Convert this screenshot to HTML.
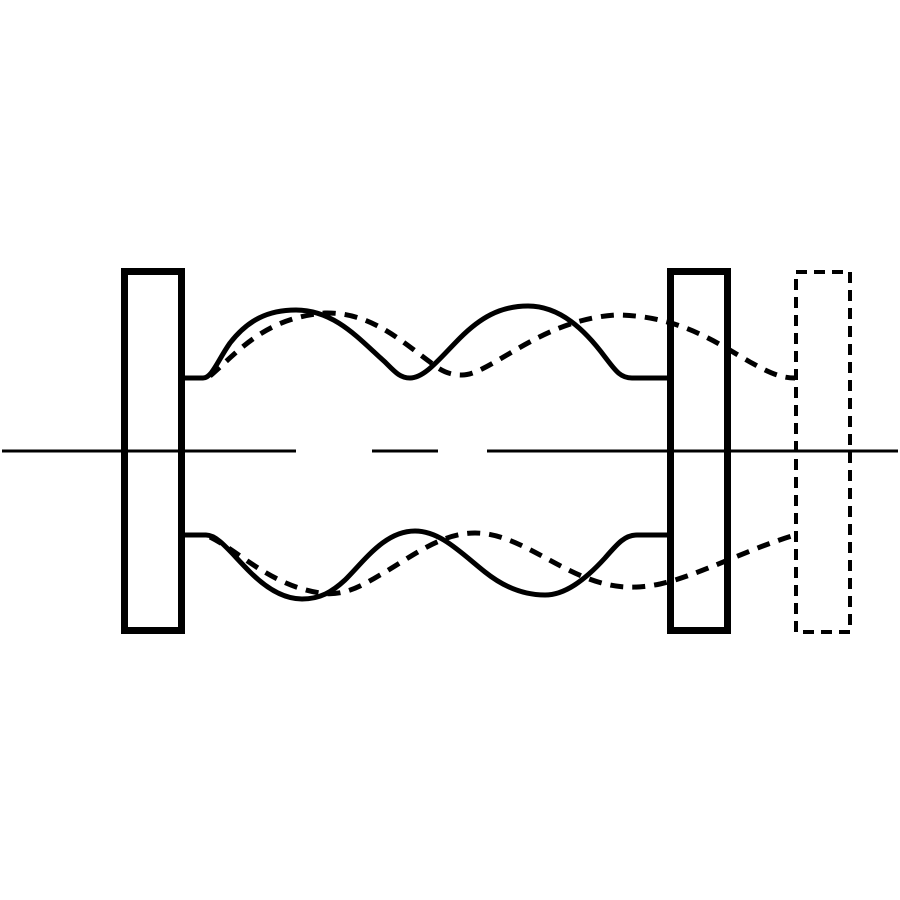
<!DOCTYPE html>
<html><head><meta charset="utf-8"><style>html,body{margin:0;padding:0;background:#fff}svg{display:block}</style></head>
<body>
<svg width="900" height="900" viewBox="0 0 900 900" xmlns="http://www.w3.org/2000/svg">
<rect width="900" height="900" fill="#fff"/>
<g stroke="#000" fill="none" stroke-linecap="butt">
<!-- center line -->
<path d="M2 451H296M372 451H438M487 451H898" stroke-width="3"/>
<!-- rects -->
<rect x="124.5" y="271.5" width="57" height="359" stroke-width="7"/>
<rect x="670.5" y="271.5" width="57" height="359" stroke-width="7"/>
<rect x="796" y="272" width="54" height="360" stroke-width="4" stroke-dasharray="11,7"/>
<!-- solid curves -->
<path d="M184 378H203C212 378 218 360 230 343C248 320 268 310 296 310C335 310 360 340 385 362C395 372 400 378 410 378C425 378 440 358 460 338C480 318 500 306 528 306C560 306 585 330 605 357C615 370 620 378 632 378H670" stroke-width="5"/>
<path d="M184 535H206C218 535 230 552 250 572C268 590 285 599 302 599C320 599 332 592 345 580C365 560 385 531 415 531C440 531 460 552 485 572C505 588 525 595 545 595C565 595 585 580 605 558C618 543 625 535 637 535H670" stroke-width="5"/>
<!-- dashed curves -->
<path d="M210 376C240 350 265 318 325 313C370 312 400 340 430 362C440 370 448 375 462 375C490 375 540 320 615 315C680 315 720 345 750 362C768 372 780 378 795 378" stroke-width="5" stroke-dasharray="13,9"/>
<path d="M210 537C240 552 270 585 320 593C340 596 355 590 380 575C410 558 440 533 475 533C520 533 560 575 610 585C625 588 640 588 660 584C700 575 745 550 795 535" stroke-width="5" stroke-dasharray="13,9"/>
</g>
</svg>
</body></html>
